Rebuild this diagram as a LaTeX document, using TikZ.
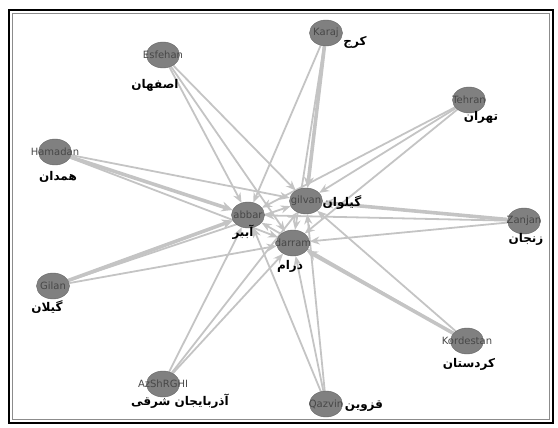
\documentclass[tikz,border=0pt]{standalone}
\usepackage{fontspec}
\setmainfont{DejaVu Sans}
\newfontfamily\arabicfont[Script=Arabic]{DejaVu Sans}
\TeXXeTstate=1
\usetikzlibrary{shapes.geometric,arrows.meta}
\pgfdeclarelayer{bg}
\pgfsetlayers{bg,main}
\tikzset{
  city/.style={ellipse, draw=black!60, fill=black!50, minimum width=33pt, minimum height=26pt, inner sep=0pt},
  cname/.style={text=black!72, font=\fontsize{10}{12}\selectfont, inner sep=0pt},
  fa/.style={font=\arabicfont\bfseries\fontsize{12}{14}\selectfont, inner sep=0pt},
  link/.style={draw=black!23, line width=1.8pt, -{Stealth[length=10pt,width=8pt]}},
  heavy/.style={link, line width=3.6pt, -{Stealth[length=11pt,width=10pt]}},
}
\begin{document}
\begin{tikzpicture}[x=1pt,y=-1pt]
\useasboundingbox (0,0) rectangle (558,428);
\draw[line width=2.2pt] (9,10) rectangle (553,423);
\draw[black!45, line width=1.6pt] (12.5,13.5) rectangle (549.5,419.5);
% centre
\node[city, label={[cname]center:abbar}] (Abb) at (248,215) {};
\node[city, label={[cname]center:gilvan}] (Gvn) at (306,201) {};
\node[city, label={[cname]center:darram}] (Drm) at (293,243) {};
% outer ring
\node[city, label={[cname]center:Esfehan}] (Esf) at (163,55) {};
\node[city, label={[cname]center:Karaj}] (Kar) at (326,33) {};
\node[city, label={[cname]center:Tehran}] (Teh) at (469,100) {};
\node[city, label={[cname]center:Hamadan}] (Ham) at (55,152) {};
\node[city, label={[cname]center:Zanjan}] (Zan) at (524,221) {};
\node[city, label={[cname]center:Gilan}] (Gln) at (53,286) {};
\node[city, label={[cname]center:Kordestan}] (Kor) at (467,341) {};
\node[city, label={[cname]center:AzShRGHI}] (Azs) at (163,384) {};
\node[city, label={[cname]center:Qazvin}] (Qaz) at (326,404) {};
% persian names
\node[fa] (AbbF) at (243,232) {\beginR آببر\endR};
\node[fa] (GvnF) at (342,203) {\beginR گیلوان\endR};
\node[fa] (DrmF) at (290,266) {\beginR درام\endR};
\node[fa] (EsfF) at (155,85) {\beginR اصفهان\endR};
\node[fa] (KarF) at (355,42) {\beginR کرج\endR};
\node[fa] (TehF) at (481,117) {\beginR تهران\endR};
\node[fa] (HamF) at (58,177) {\beginR همدان\endR};
\node[fa] (ZanF) at (526,239) {\beginR زنجان\endR};
\node[fa] (GlnF) at (47,307) {\beginR گیلان\endR};
\node[fa] (KorF) at (469,364) {\beginR کردستان\endR};
\node[fa] (AzsF) at (180,401) {\beginR آذربایجان شرقی\endR};
\node[fa] (QazF) at (364,406) {\beginR قزوین\endR};
\begin{pgfonlayer}{bg}
\draw[link] (Esf) -- (Abb); \draw[link] (Esf) -- (Gvn); \draw[link] (Esf) -- (Drm);
\draw[link] (Kar) -- (Abb); \draw[heavy] (Kar) -- (Gvn); \draw[link] (Kar) -- (Drm);
\draw[link] (Teh) -- (Abb); \draw[link] (Teh) -- (Gvn); \draw[link] (Teh) -- (Drm);
\draw[heavy] (Ham) -- (Abb); \draw[link] (Ham) -- (Gvn); \draw[link] (Ham) -- (Drm);
\draw[link] (Zan) -- (Abb); \draw[heavy] (Zan) -- (Gvn); \draw[link] (Zan) -- (Drm);
\draw[heavy] (Gln) -- (Abb); \draw[link] (Gln) -- (Gvn); \draw[link] (Gln) -- (Drm);
\draw[link] (Kor) -- (Abb); \draw[link] (Kor) -- (Gvn); \draw[heavy] (Kor) -- (Drm);
\draw[link] (Azs) -- (Abb); \draw[link] (Azs) -- (Gvn); \draw[link] (Azs) -- (Drm);
\draw[link] (Qaz) -- (Abb); \draw[link] (Qaz) -- (Gvn); \draw[link] (Qaz) -- (Drm);
\end{pgfonlayer}
\end{tikzpicture}
\end{document}
